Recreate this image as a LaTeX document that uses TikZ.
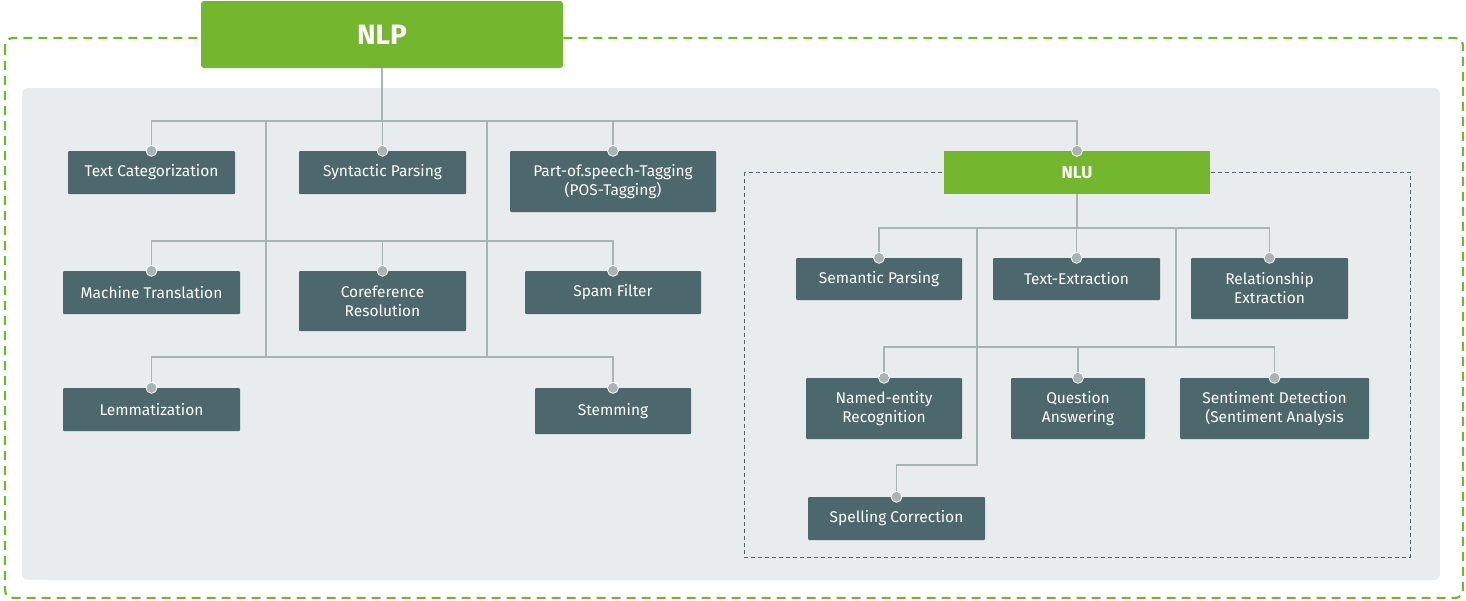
\documentclass[tikz,border=0pt]{standalone}
\usepackage{fontspec}
\setmainfont{Fira Sans}
\definecolor{gr}{HTML}{74B72E}
\definecolor{bx}{HTML}{4D686C}
\definecolor{ln}{HTML}{A8B4B6}
\definecolor{bg}{HTML}{E9ECEE}
\begin{document}
\begin{tikzpicture}[x=1pt,y=-1pt,
 box/.style={fill=bx,text=white,font=\fontsize{15.5}{19}\selectfont,align=center,inner sep=0pt,rounded corners=1pt},
 con/.style={draw=ln,line width=1.6pt},
 dot/.style={circle,fill=ln,draw=white,line width=0.8pt,inner sep=0pt,minimum size=11pt}]
\useasboundingbox (0,0) rectangle (1466,600);
\draw[gr,line width=2.2pt,dash pattern=on 9pt off 6pt,rounded corners=8pt] (5,38) rectangle (1463,598);
\fill[bg,rounded corners=6pt] (22,88) rectangle (1440,580);
\node[fill=gr,text=white,font=\bfseries\fontsize{28}{32}\selectfont,minimum width=362pt,minimum height=67pt,inner sep=0pt,rounded corners=3pt] (nlp) at (382,34.5) {NLP};
\draw[bx,line width=1pt,dash pattern=on 4pt off 3pt] (744,172) rectangle (1410,557);
% level coordinates
\coordinate (h1) at (0,121);
\coordinate (h2) at (0,241);
\coordinate (h3) at (0,357);
\coordinate (t1) at (266,0);
\coordinate (t2) at (487,0);
\coordinate (n1) at (0,228);
\coordinate (n2) at (0,347);
\coordinate (n3) at (0,465);
\coordinate (u1) at (977,0);
\coordinate (u2) at (1176,0);
% boxes
\node[box,minimum width=167pt,minimum height=43pt] (tc) at (151.5,172.5) {Text Categorization};
\node[box,minimum width=167pt,minimum height=43pt] (sp) at (382.5,172.5) {Syntactic Parsing};
\node[box,minimum width=206pt,minimum height=61pt] (pos) at (613,181.5) {Part-of.speech-Tagging\\(POS-Tagging)};
\node[fill=gr,text=white,font=\bfseries\fontsize{17}{20}\selectfont,minimum width=266pt,minimum height=43pt,inner sep=0pt] (nlu) at (1077,172.5) {NLU};
\node[box,minimum width=177pt,minimum height=43pt] (mt) at (151.5,292.5) {Machine Translation};
\node[box,minimum width=167pt,minimum height=60pt] (cr) at (382.5,301) {Coreference\\Resolution};
\node[box,minimum width=176pt,minimum height=43pt] (sf) at (613,292.5) {Spam Filter};
\node[box,minimum width=177pt,minimum height=43pt] (lm) at (151.5,409.5) {Lemmatization};
\node[box,minimum width=156pt,minimum height=46pt] (st) at (613,411) {Stemming};
\node[box,minimum width=166pt,minimum height=42pt] (smp) at (879,279) {Semantic Parsing};
\node[box,minimum width=167pt,minimum height=42pt] (te) at (1076.5,279) {Text-Extraction};
\node[box,minimum width=157pt,minimum height=61pt] (re) at (1269.5,288.5) {Relationship\\Extraction};
\node[box,minimum width=156pt,minimum height=61pt] (ner) at (884,408.5) {Named-entity\\Recognition};
\node[box,minimum width=134pt,minimum height=61pt] (qa) at (1078,408.5) {Question\\Answering};
\node[box,minimum width=189pt,minimum height=61pt] (sd) at (1274.5,408.5) {Sentiment Detection\\(Sentiment Analysis};
\node[box,minimum width=177pt,minimum height=43pt] (sc) at (896.5,518.5) {Spelling Correction};
% connectors NLP
\draw[con] (nlp.south) -- (nlp.south |- h1);
\draw[con] (tc.north) -- (tc.north |- h1) -- (nlu.north |- h1) -- (nlu.north);
\draw[con] (sp.north) -- (sp.north |- h1);
\draw[con] (pos.north) -- (pos.north |- h1);
\draw[con] (t1 |- h1) -- (t1 |- h3);
\draw[con] (t2 |- h1) -- (t2 |- h3);
\draw[con] (mt.north) -- (mt.north |- h2) -- (sf.north |- h2) -- (sf.north);
\draw[con] (cr.north) -- (cr.north |- h2);
\draw[con] (lm.north) -- (lm.north |- h3) -- (st.north |- h3) -- (st.north);
% NLU
\draw[con] (nlu.south) -- (nlu.south |- n1);
\draw[con] (smp.north) -- (smp.north |- n1) -- (re.north |- n1) -- (re.north);
\draw[con] (te.north) -- (te.north |- n1);
\draw[con] (u1 |- n1) -- (u1 |- n3) -- (sc.north |- n3) -- (sc.north);
\draw[con] (u2 |- n1) -- (u2 |- n2);
\draw[con] (ner.north) -- (ner.north |- n2) -- (sd.north |- n2) -- (sd.north);
\draw[con] (qa.north) -- (qa.north |- n2);
% dots
\foreach \n in {tc,sp,pos,nlu,mt,cr,sf,lm,st,smp,te,re,ner,qa,sd,sc}
  \node[dot] at (\n.north) {};
\end{tikzpicture}
\end{document}
